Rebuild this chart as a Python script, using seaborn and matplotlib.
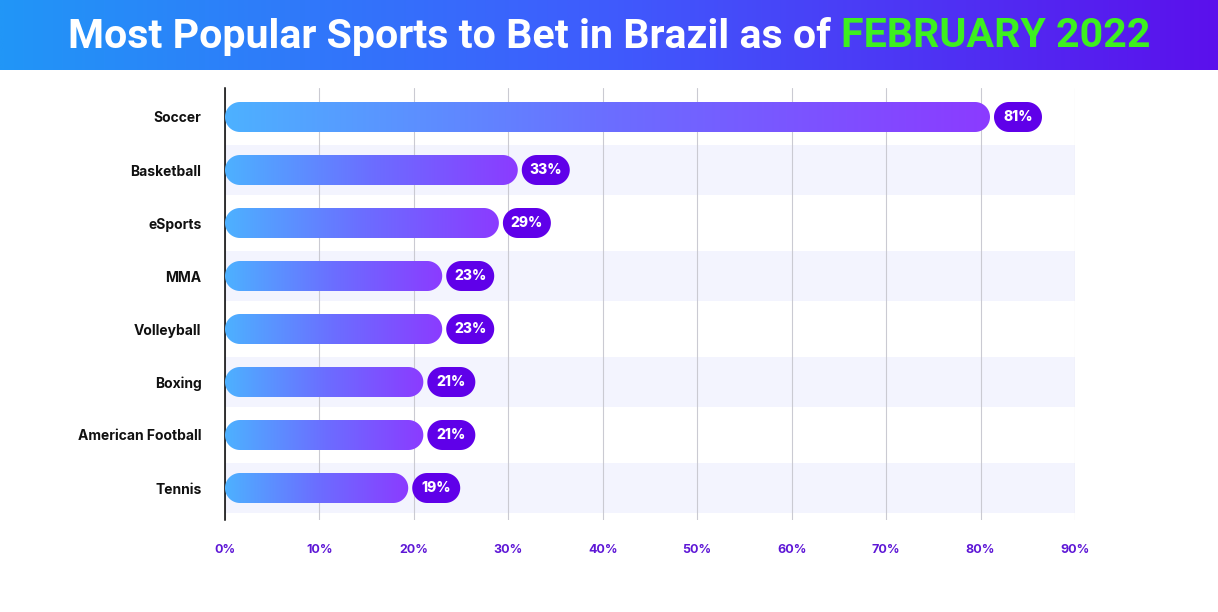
import numpy as np
import pandas as pd
import matplotlib
matplotlib.use("Agg")
import matplotlib.pyplot as plt
import seaborn as sns
from matplotlib.patches import PathPatch
from matplotlib.path import Path
from matplotlib.colors import LinearSegmentedColormap

# ---------------- data ----------------
categories = ["Soccer", "Basketball", "eSports", "MMA", "Volleyball",
              "Boxing", "American Football", "Tennis"]
values = [81, 31, 29, 23, 23, 21, 21, 19.4]          # drawn bar lengths (%)
value_labels = ["81%", "33%", "29%", "23%", "23%", "21%", "21%", "19%"]
xticks = [0, 10, 20, 30, 40, 50, 60, 70, 80, 90]
xtick_labels = ["0%", "10%", "20%", "30%", "40%", "50%", "60%", "70%", "80%", "90%"]
title_main = "Most Popular Sports to Bet in Brazil as of "
title_accent = "FEBRUARY 2022"

# ---------------- style ----------------
sns.set_theme(style="white")
plt.rcParams["font.family"] = ["Inter", "DejaVu Sans"]

W, H = 1218, 612
fig = plt.figure(figsize=(W / 100, H / 100), dpi=100)
fig.patch.set_facecolor("white")

# ---------------- banner ----------------
ban = fig.add_axes([0, 1 - 70 / H, 1, 70 / H])
banner_cmap = LinearSegmentedColormap.from_list(
    "banner", ["#2196F7", "#3F5BFD", "#5B10EC"])
ban.imshow(np.linspace(0, 1, 512)[None, :], cmap=banner_cmap,
           aspect="auto", extent=(0, 1, 0, 1))
ban.set_xlim(0, 1); ban.set_ylim(0, 1)
ban.axis("off")

# ---------------- main axes ----------------
ax = fig.add_axes([225 / W, 1 - 520 / H, 850 / W, 432 / H])
df = pd.DataFrame({"sport": categories, "value": values})
bar_h = 0.566
sns.barplot(data=df, x="value", y="sport", orient="h", ax=ax,
            width=bar_h, color="#8B3CFF")
xlim = (0, 90)
ylim = (7 + 32 / 53, -29 / 53)
ax.set_xlim(*xlim); ax.set_ylim(*ylim)

inv = ax.transData.inverted()


def stadium(x, y, w, h):
    """Pill-shaped path (true semicircular ends) in data coordinates."""
    a = ax.transData.transform((x, y))
    b = ax.transData.transform((x + w, y + h))
    x0, x1 = sorted([a[0], b[0]])
    y0, y1 = sorted([a[1], b[1]])
    r = (y1 - y0) / 2
    cy = (y0 + y1) / 2
    r = min(r, (x1 - x0) / 2)
    th_r = np.linspace(-np.pi / 2, np.pi / 2, 40)
    th_l = np.linspace(np.pi / 2, 3 * np.pi / 2, 40)
    right = np.c_[x1 - r + r * np.cos(th_r), cy + r * np.sin(th_r)]
    left = np.c_[x0 + r + r * np.cos(th_l), cy + r * np.sin(th_l)]
    pts = np.vstack([right, left, right[:1]])
    pts = inv.transform(pts)
    codes = [Path.MOVETO] + [Path.LINETO] * (len(pts) - 2) + [Path.CLOSEPOLY]
    return Path(pts, codes)


p0 = ax.transData.transform((0, 0))
p1 = ax.transData.transform((1, 1))
ppx = abs(p1[0] - p0[0])

bar_cmap = LinearSegmentedColormap.from_list("bar", ["#4DB1FF", "#6B6EFF", "#8B3BFF"])
grad = np.linspace(0, 1, 256)[None, :]

# alternating row bands
for i in range(len(categories)):
    if i % 2 == 1:
        ax.axhspan(i - 0.47, i + 0.47, color="#F3F4FE", zorder=0.2, lw=0)

pill_w_px = 48
for patch, lab in zip(list(ax.patches), value_labels):
    x, y = patch.get_x(), patch.get_y()
    w, h = patch.get_width(), patch.get_height()
    patch.set_visible(False)
    rr = PathPatch(stadium(x, y, w, h), transform=ax.transData,
                   facecolor="none", edgecolor="none")
    ax.add_patch(rr)
    im = ax.imshow(grad, cmap=bar_cmap, aspect="auto",
                   extent=(x, x + w, y + h, y), zorder=3, interpolation="bicubic")
    im.set_clip_path(rr)
    # value pill
    px0 = x + w + 4 / ppx
    pw = pill_w_px / ppx
    pill = PathPatch(stadium(px0, y, pw, h), transform=ax.transData,
                     facecolor="#5F00E9", edgecolor="none", zorder=4)
    ax.add_patch(pill)
    ax.text(px0 + pw / 2, y + h / 2, lab, color="white", fontsize=10,
            fontweight="heavy", ha="center", va="center", zorder=5)

ax.set_xlim(*xlim); ax.set_ylim(*ylim)

# grid / ticks / spines
ax.set_xticks(xticks)
ax.set_xticklabels(xtick_labels, color="#5E17D6", fontweight="bold", fontsize=9)
ax.grid(axis="x", color="#CACAD2", lw=0.8)
ax.grid(axis="y", visible=False)
ax.set_axisbelow(True)
ax.tick_params(axis="x", length=0, pad=17)
ax.tick_params(axis="y", length=0, pad=17)
for t in ax.get_yticklabels():
    t.set_fontweight("bold"); t.set_fontsize(10); t.set_color("#111111")
ax.set_xlabel(""); ax.set_ylabel("")
for s in ["top", "right", "bottom"]:
    ax.spines[s].set_visible(False)
ax.spines["left"].set_color("black")
ax.spines["left"].set_linewidth(1.1)
ax.set_facecolor("none")

# ---------------- title (two colours) ----------------
renderer = fig.canvas.get_renderer()
fs = 24
fam = ["Roboto", "DejaVu Sans"]
t_probe = fig.text(0, 0, title_main + title_accent, fontsize=fs,
                   fontweight="bold", family=fam)
wpx = t_probe.get_window_extent(renderer).width
t_probe.remove()
fs = fs * 1083 / wpx
t1 = fig.text(0, 0, title_main, fontsize=fs, fontweight="bold",
              family=fam, color="white", va="center")
w1 = t1.get_window_extent(renderer).width
t2 = fig.text(0, 0, title_accent, fontsize=fs, fontweight="bold",
              family=fam, color="#3DF01F", va="center")
w2 = t2.get_window_extent(renderer).width
x_start = (W - (w1 + w2)) / 2
yc = 1 - 36 / H
t1.set_position((x_start / W, yc))
t2.set_position(((x_start + w1) / W, yc))

fig.savefig("out.png", dpi=100, facecolor="white")
